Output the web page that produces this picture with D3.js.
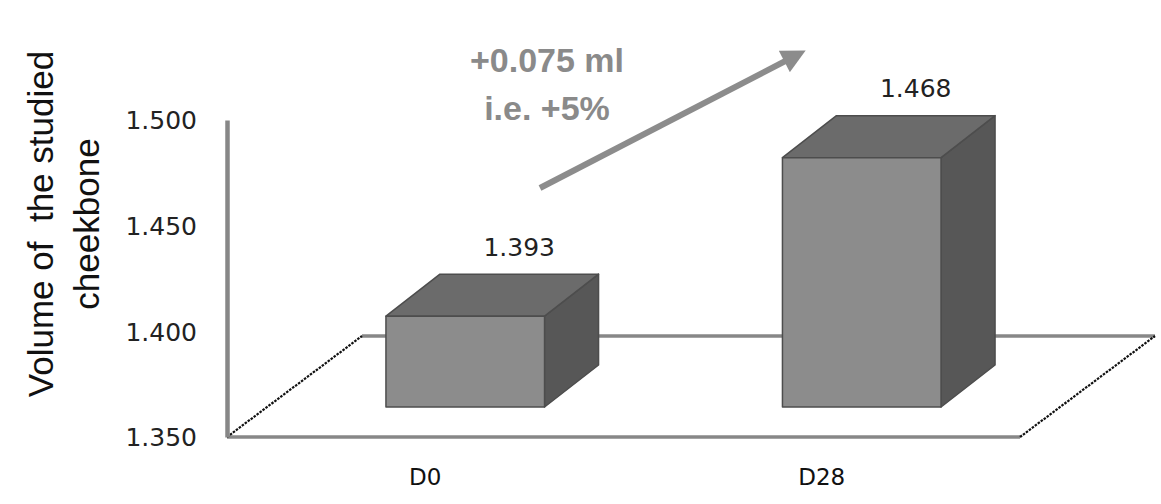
<!DOCTYPE html>
<html><head><meta charset="utf-8">
<script src="https://cdn.jsdelivr.net/npm/d3@7"></script>
<style>body{margin:0;background:#fff}svg{display:block}</style>
</head><body>
<svg id="chart" width="1161" height="504"></svg>
<script>
const categories = ["D0", "D28"];
const values = [1.393, 1.468];
const valueLabels = ["1.393", "1.468"];
const yTicks = [1.350, 1.400, 1.450, 1.500];
const yTitleLines = ["Volume of  the studied", "cheekbone"];
const annotationLines = ["+0.075 ml", "i.e. +5%"];

const svg = d3.select("#chart");
const x = d3.scaleBand().domain(categories).range([227, 1020]).paddingInner(0).paddingOuter(0);
const y = d3.scaleLinear().domain([1.35, 1.5]).range([437, 120]);
const floorDepth = {x: 135, y: -101};
const front = {x: 40, y: -30};
const depth = {x: 54, y: -42};
const base = 1.35;

// floor
const fx0 = x.range()[0], fx1 = x.range()[1], fy = y(base);
svg.append("line").attr("x1", fx0 + floorDepth.x).attr("x2", fx1 + floorDepth.x)
  .attr("y1", fy + floorDepth.y).attr("y2", fy + floorDepth.y)
  .attr("stroke", "#878787").attr("stroke-width", 3.5);
svg.append("line").attr("x1", fx0).attr("x2", fx1).attr("y1", fy).attr("y2", fy)
  .attr("stroke", "#878787").attr("stroke-width", 3.5);
[fx0, fx1].forEach(px => {
  svg.append("line").attr("x1", px).attr("y1", fy)
    .attr("x2", px + floorDepth.x).attr("y2", fy + floorDepth.y)
    .attr("stroke", "#111").attr("stroke-width", 2.2).attr("stroke-dasharray", "2.5,1.2");
});

// y axis
const yAxis = d3.axisLeft(y).tickValues(yTicks).tickFormat(d3.format(".3f"))
  .tickSize(0).tickSizeOuter(0).tickPadding(30);
const ga = svg.append("g").attr("transform", `translate(${fx0},0)`).call(yAxis);
ga.select(".domain").attr("stroke", "#878787").attr("stroke-width", 4.5);
ga.selectAll("text").attr("font-family", "DejaVu Sans").attr("font-size", 25)
  .attr("fill", "#222").attr("dy", "0.35em");

// x axis labels
const xAxis = d3.axisBottom(x).tickSize(0).tickPadding(30);
const gx = svg.append("g").attr("transform", `translate(0,${fy})`).call(xAxis);
gx.select(".domain").remove();
gx.selectAll("text").attr("font-family", "DejaVu Sans").attr("font-size", 23)
  .attr("fill", "#111").attr("dy", "0.35em").attr("y", 40);

// bars
const bw = x.bandwidth();
categories.forEach((c, i) => {
  const x0 = x(c) + 0.3 * bw + front.x;
  const x1 = x0 + 0.4 * bw;
  const yt = y(values[i]) + front.y;
  const yb = y(base) + front.y;
  const g = svg.append("g").attr("stroke", "#4d4d4d").attr("stroke-width", 1.5).attr("stroke-linejoin", "round");
  g.append("path").attr("fill", "#575757")
    .attr("d", `M${x1},${yt}L${x1 + depth.x},${yt + depth.y}L${x1 + depth.x},${yb + depth.y}L${x1},${yb}Z`);
  g.append("path").attr("fill", "#6b6b6b")
    .attr("d", `M${x0},${yt}L${x0 + depth.x},${yt + depth.y}L${x1 + depth.x},${yt + depth.y}L${x1},${yt}Z`);
  g.append("rect").attr("fill", "#8c8c8c").attr("x", x0).attr("y", yt)
    .attr("width", x1 - x0).attr("height", yb - yt);
  svg.append("text").attr("x", (x0 + x1) / 2 + depth.x).attr("y", yt + depth.y - 27)
    .attr("dy", "0.35em").attr("text-anchor", "middle")
    .attr("font-family", "DejaVu Sans").attr("font-size", 25).attr("fill", "#222")
    .text(valueLabels[i]);
});

// y title
const yt = svg.append("text").attr("transform", "translate(53,224) rotate(-90)")
  .attr("text-anchor", "middle").attr("font-family", "Liberation Sans").attr("font-size", 35)
  .attr("fill", "#111").style("white-space", "pre");
yt.append("tspan").attr("x", 0).attr("y", 0).text(yTitleLines[0]);
yt.append("tspan").attr("x", 0).attr("y", 46).text(yTitleLines[1]);

// arrow annotation
const defs = svg.append("defs");
defs.append("marker").attr("id", "ah").attr("viewBox", "0 0 10 10").attr("refX", 5).attr("refY", 5)
  .attr("markerWidth", 4.2).attr("markerHeight", 4).attr("orient", "auto").attr("markerUnits", "strokeWidth")
  .append("path").attr("d", "M0,0L10,5L0,10Z").attr("fill", "#8c8c8c");
svg.append("line").attr("x1", 540).attr("y1", 188).attr("x2", 795).attr("y2", 56)
  .attr("stroke", "#8c8c8c").attr("stroke-width", 6).attr("marker-end", "url(#ah)");
svg.append("text").attr("x", 547).attr("y", 72).attr("text-anchor", "middle")
  .attr("font-family", "Liberation Sans").attr("font-weight", "bold").attr("font-size", 34)
  .attr("fill", "#8a8a8a").text(annotationLines[0]);
svg.append("text").attr("x", 547).attr("y", 120).attr("text-anchor", "middle")
  .attr("font-family", "Liberation Sans").attr("font-weight", "bold").attr("font-size", 34)
  .attr("fill", "#8a8a8a").text(annotationLines[1]);
</script>
</body></html>
